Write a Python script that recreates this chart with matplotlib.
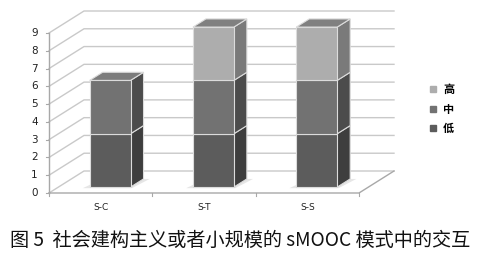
import matplotlib
matplotlib.use('Agg')
import matplotlib.pyplot as plt
from matplotlib.patches import Polygon
from matplotlib.lines import Line2D
from matplotlib.font_manager import FontProperties

categories = ['S-C', 'S-T', 'S-S']
low = [3, 3, 3]
mid = [3, 3, 3]
high = [0, 3, 3]
series_names = ['低', '中', '高']
yticks = list(range(10))
caption = '图 5  社会建构主义或者小规模的 sMOOC 模式中的交互'

front_c = {'低': '#5c5c5c', '中': '#727272', '高': '#adadad'}
side_c = {'低': '#3e3e3e', '中': '#4c4c4c', '高': '#7a7a7a'}
top_c = {'低': '#7a7a7a', '中': '#7c7c7c', '高': '#808080'}

W, H = 480, 260
fig = plt.figure(figsize=(4.8, 2.6), dpi=100)
fig.patch.set_facecolor('white')
ax = fig.add_axes([49 / W, (H - 193) / H, 310 / W, 160 / H])
ax.set_xlim(0, 3)
ax.set_ylim(0, 9)
ax.axis('off')

DX = 35 / (310 / 3)
DY = 22 / (160 / 9)


def P(x, y, d):
    return (x + d * DX, y + d * DY)


grid_c = '#c9c9c9'
axis_c = '#a8a8a8'
# walls
for v in yticks:
    pts = [P(0, v, 0), P(0, v, 1), P(len(categories), v, 1)]
    ax.plot([p[0] for p in pts], [p[1] for p in pts], color=grid_c, lw=1.0,
            clip_on=False, zorder=1)
# floor edges
n = len(categories)
pts = [P(0, 0, 0), P(n, 0, 0), P(n, 0, 1)]
ax.plot([p[0] for p in pts], [p[1] for p in pts], color=axis_c, lw=1.0,
        clip_on=False, zorder=1.5)
ax.plot([0, 0], [0, max(yticks)], color=axis_c, lw=1.0, clip_on=False, zorder=1.5)

for v in yticks:
    ax.plot([-0.03, 0], [v, v], color=axis_c, lw=0.8, clip_on=False)
    ax.text(-0.11, v, str(v), ha='right', va='center', fontsize=7.5,
            color='#222222')
for k in range(n + 1):
    ax.plot([k, k], [0, -0.18], color=axis_c, lw=0.8, clip_on=False)
for i, c in enumerate(categories):
    ax.text(i + 0.5, -0.8, c, ha='center', va='center', fontsize=6.5,
            color='#222222')

# bars
BW = 0.396
d0, d1 = 0.27, 0.64
edge = '#dcdcdc'
for i in range(n):
    vals = [('低', low[i]), ('中', mid[i]), ('高', high[i])]
    x0 = i + 0.5 - BW / 2
    b = 0
    top = sum(v for _, v in vals)
    # base shadow
    sh = [P(x0 - 0.05, 0, d0 - 0.05), P(x0 + BW + 0.03, 0, d0 - 0.05),
          P(x0 + BW + 0.06, 0, d1), P(x0, 0, d1)]
    ax.add_patch(Polygon(sh, closed=True, fc='#e6e6e6', ec='none',
                         clip_on=False, zorder=2))
    for name, h in vals:
        if h <= 0:
            continue
        f = [P(x0, b, d0), P(x0 + BW, b, d0), P(x0 + BW, b + h, d0), P(x0, b + h, d0)]
        s = [P(x0 + BW, b, d0), P(x0 + BW, b, d1), P(x0 + BW, b + h, d1), P(x0 + BW, b + h, d0)]
        ax.add_patch(Polygon(s, closed=True, fc=side_c[name], ec=edge, lw=0.8,
                             clip_on=False, zorder=3))
        ax.add_patch(Polygon(f, closed=True, fc=front_c[name], ec=edge, lw=0.8,
                             clip_on=False, zorder=4))
        if b + h == top:
            t = [P(x0, top, d0), P(x0 + BW, top, d0), P(x0 + BW, top, d1), P(x0, top, d1)]
            ax.add_patch(Polygon(t, closed=True, fc=top_c[name], ec=edge, lw=0.8,
                                 clip_on=False, zorder=4))
        b += h

handles = [Line2D([], [], marker='s', ls='', color=front_c[nm], markersize=4.5,
                  label=nm) for nm in reversed(series_names)]
fig.legend(handles=handles, loc='center left',
           bbox_to_anchor=(422 / W, 1 - 109 / H), frameon=False,
           prop=FontProperties(family=['Noto Sans CJK SC', 'DejaVu Sans'],
                               size=8, weight='bold'),
           handletextpad=0.4, labelspacing=0.6, handlelength=1.0,
           borderpad=0)

fig.text(0.5, 1 - 240 / H, caption, ha='center', va='center', fontsize=13.8,
         family=['Noto Sans CJK SC', 'DejaVu Sans'], color='#111111')

fig.savefig('out.png', dpi=100, facecolor='white')
